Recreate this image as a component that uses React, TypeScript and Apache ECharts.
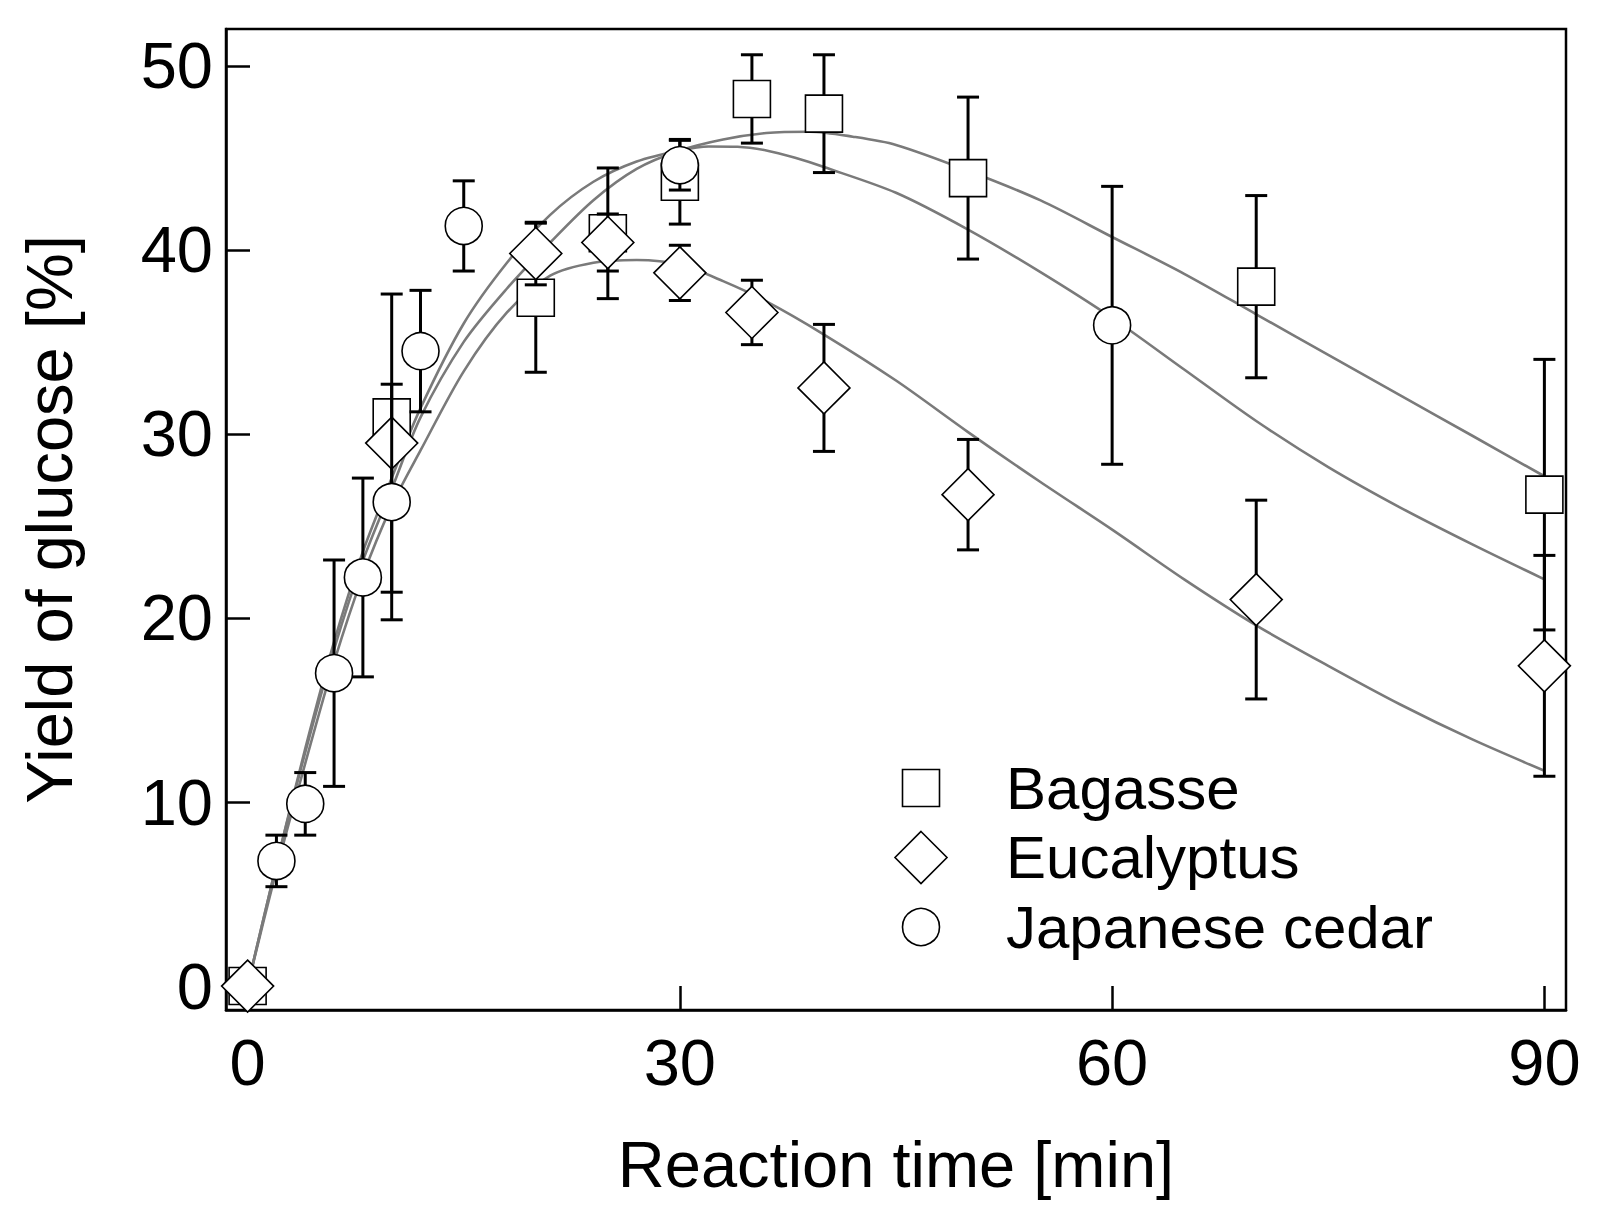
import React, { useEffect, useRef } from "react";
import * as echarts from "echarts";

// ---- measured data ----
const bagasseX = [0, 10, 20, 25, 30, 35, 40, 50, 70, 90];
const bagasseY = [0, 30.9, 37.4, 40.9, 43.7, 48.2, 47.4, 43.9, 38.0, 26.7];
const bagasseErr = [0, 0.8, 4.05, 3.55, 2.3, 2.4, 3.2, 4.4, 4.95, 7.35];

const eucalyptusX = [0, 10, 20, 25, 30, 35, 40, 50, 70, 90];
const eucalyptusY = [0, 29.5, 39.8, 40.4, 38.75, 36.6, 32.5, 26.7, 21.0, 17.4];
const eucalyptusErr = [0, 8.1, 1.7, 1.55, 1.5, 1.75, 3.45, 3.0, 5.4, 6.0];

const cedarX = [2, 4, 6, 8, 10, 12, 15, 30, 60];
const cedarY = [6.8, 9.9, 17.0, 22.2, 26.3, 34.5, 41.3, 44.6, 35.9];
const cedarErr = [1.4, 1.7, 6.15, 5.4, 6.4, 3.3, 2.45, 1.35, 7.55];

// fitted curves
const bagasseFitX = [0, 2, 4, 6, 8, 10, 12, 15, 18, 21, 24, 27, 30, 33, 36, 39, 42, 45, 50, 55, 60, 65, 70, 75, 80, 85, 90];
const bagasseFitY = [0, 6.6, 12.7, 18.3, 23.1, 27.0, 30.9, 35.0, 37.9, 40.4, 42.7, 44.4, 45.4, 46.0, 46.35, 46.42, 46.15, 45.7, 44.3, 42.7, 40.7, 38.7, 36.5, 34.3, 32.1, 29.9, 27.7];

const cedarFitX = [0, 2, 4, 6, 8, 10, 12, 15, 18, 21, 24, 27, 30, 32, 34, 36, 38, 40, 45, 50, 55, 60, 65, 70, 75, 80, 85, 90];
const cedarFitY = [0, 6.6, 12.9, 18.7, 23.6, 27.6, 31.4, 36.0, 39.3, 41.9, 43.7, 44.8, 45.4, 45.62, 45.6, 45.4, 45.0, 44.5, 43.1, 41.1, 38.8, 36.3, 33.5, 30.7, 28.2, 26.0, 24.0, 22.1];

const eucalyptusFitX = [0, 2, 4, 6, 8, 10, 12, 15, 18, 21, 24, 27, 30, 33, 36, 40, 45, 50, 55, 60, 65, 70, 75, 80, 85, 90];
const eucalyptusFitY = [0, 6.3, 12.1, 17.6, 22.3, 26.1, 29.1, 33.4, 36.6, 38.6, 39.3, 39.45, 39.2, 38.3, 37.2, 35.4, 32.9, 30.1, 27.4, 24.8, 22.1, 19.6, 17.4, 15.3, 13.4, 11.7];

const xTicks = [0, 30, 60, 90];
const yTicks = [0, 10, 20, 30, 40, 50];
const legendNames = ["Bagasse", "Eucalyptus", "Japanese cedar"];

const FONT = '"Liberation Sans", Arial, Helvetica, sans-serif';

const zip2 = (a: number[], b: number[]) => a.map((v, i) => [v, b[i]]);
const zip3 = (a: number[], b: number[], c: number[]) => a.map((v, i) => [v, b[i], c[i]]);

function errorBarSeries(data: number[][], z: number) {
  return {
    type: "custom",
    z,
    silent: true,
    dimensions: ["x", "y", "e"],
    encode: { x: 0, y: 1 },
    data,
    renderItem: (_params: any, api: any) => {
      const x = api.value(0);
      const y = api.value(1);
      const e = api.value(2);
      if (!e) return { type: "group", children: [] };
      const top = api.coord([x, y + e]);
      const bot = api.coord([x, y - e]);
      const half = 11;
      const style = { stroke: "#000", lineWidth: 3 };
      return {
        type: "group",
        children: [
          { type: "line", shape: { x1: top[0], y1: top[1], x2: bot[0], y2: bot[1] }, style },
          { type: "line", shape: { x1: top[0] - half, y1: top[1], x2: top[0] + half, y2: top[1] }, style },
          { type: "line", shape: { x1: bot[0] - half, y1: bot[1], x2: bot[0] + half, y2: bot[1] }, style },
        ],
      };
    },
  };
}

function fitSeries(data: number[][]) {
  return {
    type: "line",
    z: 1,
    data,
    smooth: 0.3,
    showSymbol: false,
    silent: true,
    lineStyle: { color: "#7a7a7a", width: 2.6 },
  };
}

function markerSeries(name: string, data: number[][], symbol: string, size: number, z: number) {
  return {
    type: "scatter",
    name,
    z,
    data,
    symbol,
    symbolSize: size,
    itemStyle: { color: "#ffffff", borderColor: "#000000", borderWidth: 1.6, opacity: 1 },
    silent: true,
  };
}

export default function App() {
  const ref = useRef<HTMLDivElement>(null);

  useEffect(() => {
    document.body.style.margin = "0";
    if (!ref.current) return;
    const chart = echarts.init(ref.current, undefined, { renderer: "svg" });

    const legendX = 921;
    const legendTextX = 1006;
    const legendY = [788, 857.5, 927];
    const textStyle = (t: string, y: number) => ({
      type: "text",
      x: legendTextX,
      y,
      z: 100,
      style: { text: t, fontSize: 60, fontFamily: FONT, fill: "#000", verticalAlign: "middle", align: "left" },
    });
    const symStyle = { fill: "#fff", stroke: "#000", lineWidth: 1.6 };

    const option: any = {
      animation: false,
      backgroundColor: "#ffffff",
      grid: {
        left: 226,
        right: 44,
        top: 29,
        bottom: 202,
        show: true,
        borderColor: "#000",
        borderWidth: 2.5,
        backgroundColor: "transparent",
        containLabel: false,
      },
      xAxis: {
        type: "value",
        min: -1.5,
        max: 91.5,
        name: "Reaction time [min]",
        nameLocation: "middle",
        nameGap: 122,
        nameTextStyle: { fontSize: 65, color: "#000", fontFamily: FONT },
        axisLine: { show: true, onZero: false, lineStyle: { color: "#000", width: 2.5 } },
        axisTick: { show: true, inside: true, length: 24, customValues: xTicks, lineStyle: { color: "#000", width: 2.5 } },
        axisLabel: { show: true, customValues: xTicks, fontSize: 65, margin: 20, color: "#000", fontFamily: FONT },
        splitLine: { show: false },
      },
      yAxis: {
        type: "value",
        min: -1.3,
        max: 52,
        name: "Yield of glucose [%]",
        nameLocation: "middle",
        nameGap: 144,
        nameTextStyle: { fontSize: 65, color: "#000", fontFamily: FONT },
        axisLine: { show: true, onZero: false, lineStyle: { color: "#000", width: 2.5 } },
        axisTick: { show: true, inside: true, length: 24, customValues: yTicks, lineStyle: { color: "#000", width: 2.5 } },
        axisLabel: { show: true, customValues: yTicks, fontSize: 65, margin: 13, color: "#000", fontFamily: FONT },
        splitLine: { show: false },
      },
      series: [
        fitSeries(zip2(bagasseFitX, bagasseFitY)),
        fitSeries(zip2(cedarFitX, cedarFitY)),
        fitSeries(zip2(eucalyptusFitX, eucalyptusFitY)),
        errorBarSeries(zip3(bagasseX, bagasseY, bagasseErr), 2),
        markerSeries(legendNames[0], zip2(bagasseX, bagasseY), "rect", 37, 3),
        errorBarSeries(zip3(eucalyptusX, eucalyptusY, eucalyptusErr), 4),
        markerSeries(legendNames[1], zip2(eucalyptusX, eucalyptusY), "diamond", 52, 5),
        errorBarSeries(zip3(cedarX, cedarY, cedarErr), 6),
        markerSeries(legendNames[2], zip2(cedarX, cedarY), "circle", 37, 7),
      ],
      graphic: [
        {
          type: "rect",
          z: 100,
          shape: { x: legendX - 18.5, y: legendY[0] - 18.5, width: 37, height: 37 },
          style: symStyle,
        },
        {
          type: "polygon",
          z: 100,
          shape: {
            points: [
              [legendX, legendY[1] - 26],
              [legendX + 26, legendY[1]],
              [legendX, legendY[1] + 26],
              [legendX - 26, legendY[1]],
            ],
          },
          style: symStyle,
        },
        {
          type: "circle",
          z: 100,
          shape: { cx: legendX, cy: legendY[2], r: 18.5 },
          style: symStyle,
        },
        textStyle(legendNames[0], legendY[0]),
        textStyle(legendNames[1], legendY[1]),
        textStyle(legendNames[2], legendY[2]),
      ],
    };

    chart.setOption(option);
    return () => chart.dispose();
  }, []);

  return <div ref={ref} style={{ width: 1610, height: 1212 }} />;
}
